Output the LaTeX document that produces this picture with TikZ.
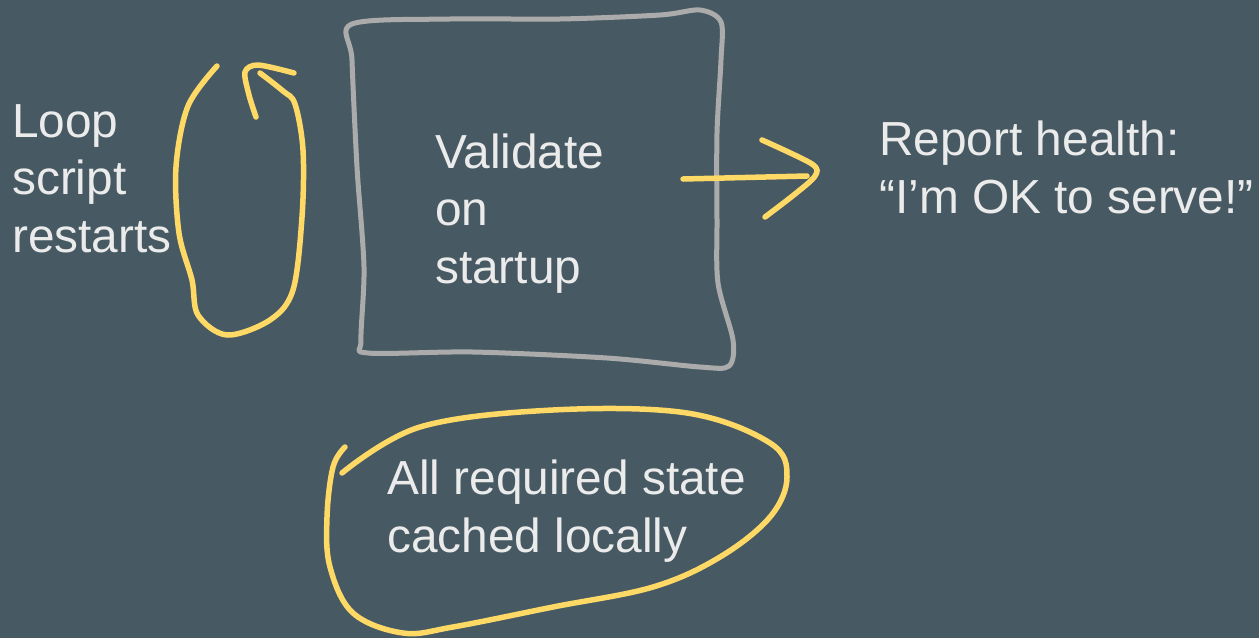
\documentclass[tikz,border=0pt]{standalone}
\usepackage{fontspec}
\setmainfont{Liberation Sans}
\definecolor{bg}{HTML}{475A63}
\definecolor{ink}{HTML}{EBEBEB}
\definecolor{hl}{HTML}{FFD966}
\definecolor{frame}{HTML}{ABABAB}
\tikzset{
  label text/.style={anchor=base west, inner sep=0pt, align=left, text=ink,
    font=\fontsize{47.8}{57.5}\selectfont},
  marker/.style={draw=hl, line width=5.5pt, line cap=round, line join=round},
  sketchbox/.style={draw=frame, line width=5pt, line cap=round, line join=round}
}
\begin{document}
\begin{tikzpicture}[x=1pt,y=-1pt]
\fill[bg] (0,0) rectangle (1259,638);
\useasboundingbox (0,0) rectangle (1259,638);

% texts (anchored at the baseline of their last line)
\node[label text] (loop) at (12,252) {Loop\\script\\restarts};
\node[label text] (validate) at (435,283) {Validate\\on\\startup};
\node[label text] (report) at (879,213) {Report health:\\“I’m OK to serve!”};
\node[label text] (state) at (387,552) {All required state\\cached locally};

% hand-drawn box around "Validate on startup"
\draw[sketchbox] plot[smooth cycle, tension=0.5] coordinates {
  (352,24) (450,19) (560,19) (660,15) (700,10) (721,22) (721,60)
  (717,133) (717,220) (718,283) (733,340) (729,366) (700,367)
  (607,358) (473,352) (368,353) (361,340) (364,267) (357,167) (352,60)};

% loop arrow
\draw[marker] plot[smooth, tension=0.55] coordinates {
  (217,66) (188,106) (176,167) (179,233) (192,280) (198,315)
  (227,335) (270,320) (293,290) (302,217) (303,150) (295,104)
  (283,91) (260,73)};
\draw[marker] plot[smooth, tension=0.5] coordinates {
  (294,73) (258,65) (245,72) (249,95) (256,117)};

% arrow to health report
\coordinate (shaftstart) at (683,179);
\coordinate (shaftend) at (807,176);
\draw[marker] (shaftstart) -- (shaftend);
\draw[marker] plot[smooth, tension=0.5] coordinates {
  (762,140) (812,164) (815,176) (795,194) (765,217)};

% circle around state text
\draw[marker] plot[smooth, tension=0.6] coordinates {
  (342,473) (420,427) (553,410) (687,413) (770,443) (787,477)
  (770,517) (720,557) (653,587) (553,607) (453,627) (403,633)
  (353,613) (330,567) (327,517) (333,467) (345,447)};
\end{tikzpicture}
\end{document}
